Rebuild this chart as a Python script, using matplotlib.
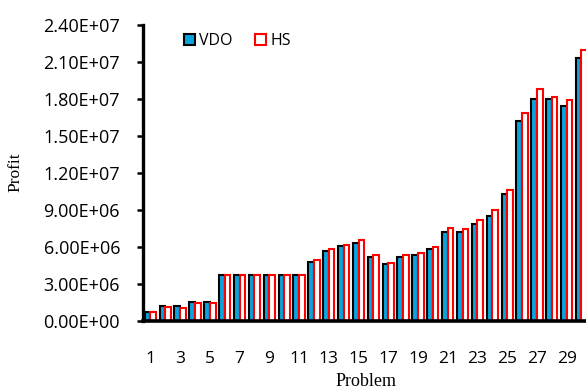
import matplotlib
matplotlib.use("Agg")
import matplotlib.pyplot as plt
from matplotlib.patches import Patch
from matplotlib.ticker import FuncFormatter, MultipleLocator
import numpy as np

problems = list(range(1, 31))
vdo = [0.72e6, 1.15e6, 1.15e6, 1.47e6, 1.47e6,
       3.67e6, 3.67e6, 3.67e6, 3.67e6, 3.67e6, 3.67e6,
       4.73e6, 5.68e6, 6.03e6, 6.32e6, 5.16e6, 4.57e6, 5.16e6, 5.33e6, 5.81e6,
       7.22e6, 7.22e6, 7.81e6, 8.49e6, 10.3e6,
       16.2e6, 18.0e6, 17.95e6, 17.4e6, 21.3e6]
hs = [0.66e6, 1.08e6, 1.05e6, 1.40e6, 1.40e6,
      3.67e6, 3.72e6, 3.72e6, 3.72e6, 3.72e6, 3.72e6,
      4.89e6, 5.78e6, 6.11e6, 6.54e6, 5.30e6, 4.68e6, 5.35e6, 5.49e6, 6.00e6,
      7.51e6, 7.46e6, 8.14e6, 8.97e6, 10.6e6,
      16.8e6, 18.8e6, 18.1e6, 17.87e6, 21.9e6]
tick_problems = list(range(1, 30, 2))

blue = "#0AA3DD"
red = "#FF0000"
sans = ["Open Sans", "DejaVu Sans"]
serif = ["Liberation Serif", "DejaVu Serif"]

fig = plt.figure(figsize=(5.86, 3.90), dpi=100)
ax = fig.add_axes([0.244, 0.178, 0.761, 0.759])

x = np.array(problems, dtype=float)
w = 0.38
ax.bar(x - w / 2, vdo, width=w, color=blue, edgecolor="black", linewidth=1.5, zorder=2)
ax.bar(x + w / 2, hs, width=w, color="white", edgecolor=red, linewidth=1.5, zorder=2)

ax.set_xlim(0.5, 30.5)
ax.set_ylim(0, 2.4e7)
ax.yaxis.set_major_locator(MultipleLocator(3e6))
ax.yaxis.set_major_formatter(FuncFormatter(
    lambda v, p: "{:.2E}".format(v)))
ax.set_xticks(tick_problems)
ax.set_xticklabels([str(t) for t in tick_problems])

for s in ("top", "right"):
    ax.spines[s].set_visible(False)
ax.spines["left"].set_linewidth(2.4)
ax.spines["bottom"].set_linewidth(2.6)

ax.tick_params(axis="y", direction="out", length=4.5, width=1.8, pad=12,
               labelsize=13)
ax.tick_params(axis="x", length=0, pad=22, labelsize=12.5)
for lab in ax.get_xticklabels() + ax.get_yticklabels():
    lab.set_family(sans)

ax.set_ylabel("Profit", family=serif, fontsize=12.5, labelpad=14)
ax.set_xlabel("Problem", family=serif, fontsize=13, labelpad=4)

handles = [Patch(facecolor=blue, edgecolor="black", linewidth=1.5, label="VDO"),
           Patch(facecolor="white", edgecolor=red, linewidth=1.5, label="HS")]
ax.legend(handles=handles, loc="upper left", bbox_to_anchor=(0.06, 1.02),
          ncol=2, frameon=False, handlelength=0.7, handleheight=0.75,
          handletextpad=0.25, columnspacing=1.4,
          prop={"family": sans, "size": 11.5})

fig.savefig("out.png", dpi=100)
